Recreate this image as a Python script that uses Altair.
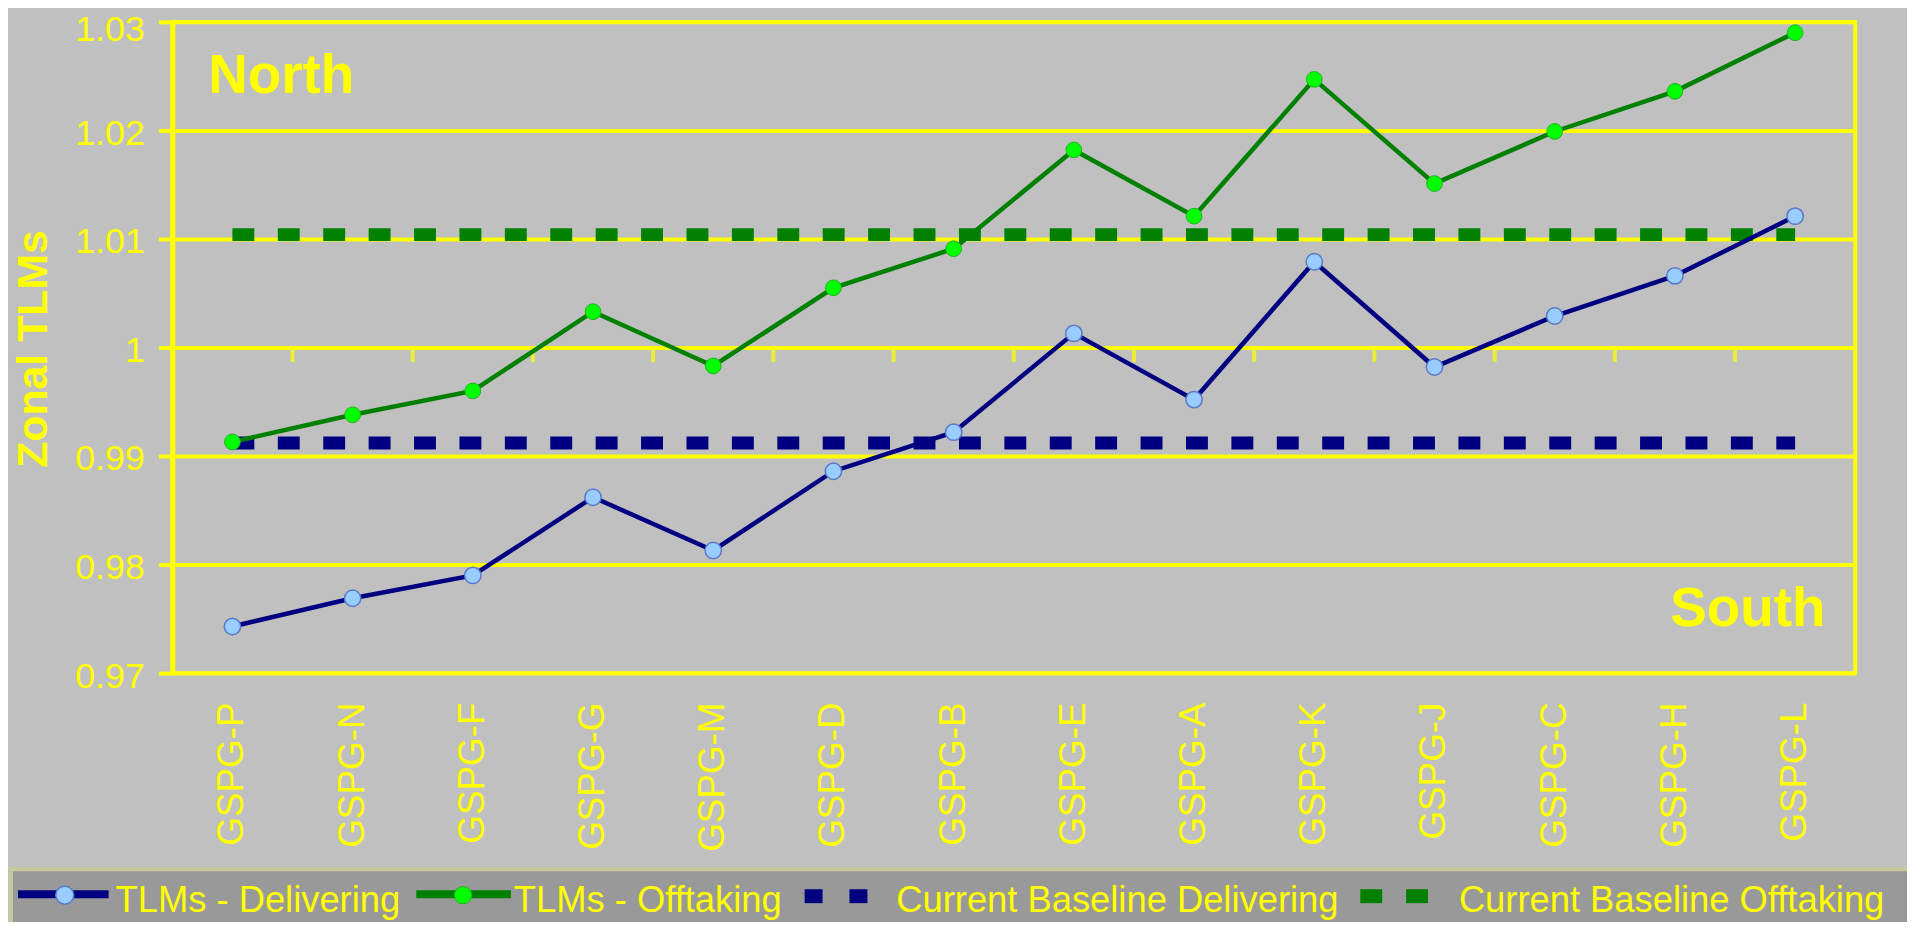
import altair as alt
import pandas as pd

# ---------------- data ----------------
categories = ["GSPG-P", "GSPG-N", "GSPG-F", "GSPG-G", "GSPG-M", "GSPG-D", "GSPG-B",
              "GSPG-E", "GSPG-A", "GSPG-K", "GSPG-J", "GSPG-C", "GSPG-H", "GSPG-L"]
delivering = [0.9743, 0.9769, 0.9790, 0.9862, 0.9813, 0.9886, 0.9922,
              1.0013, 0.9952, 1.0079, 0.9982, 1.0029, 1.0066, 1.0121]
offtaking = [0.9913, 0.9938, 0.9960, 1.0033, 0.9983, 1.0055, 1.0091,
             1.0182, 1.0121, 1.0247, 1.0151, 1.0199, 1.0236, 1.0290]
baseline_delivering = [0.9912, 0.9912, 0.9912, 0.9912, 0.9912, 0.9912, 0.9912,
                       0.9912, 0.9912, 0.9912, 0.9912, 0.9912, 0.9912, 0.9912]
baseline_offtaking = [1.0104, 1.0104, 1.0104, 1.0104, 1.0104, 1.0104, 1.0104,
                      1.0104, 1.0104, 1.0104, 1.0104, 1.0104, 1.0104, 1.0104]
series_names = ["TLMs - Delivering", "TLMs - Offtaking",
                "Current Baseline Delivering", "Current Baseline Offtaking"]
y_ticks = [0.97, 0.98, 0.99, 1.00, 1.01, 1.02, 1.03]
axis_cross = 1.00
zone_labels = ["North", "South"]

# ---------------- style ----------------
YEL = "#FFFF00"
NAVY = "#000080"
GREEN = "#008000"
LIME = "#00FF00"
LBLUE = "#99CCFF"
FONT = "Liberation Sans"
W, H = 1690, 654

cat_scale = alt.Scale(type="band", domain=categories, paddingInner=0, paddingOuter=0)
y_scale = alt.Scale(domain=[0.97, 1.03], nice=False, zero=False)

x_axis = alt.Axis(title=None, labelAngle=270, labelAlign="right", labelBaseline="middle",
                  labelPadding=29, ticks=False, domain=False, grid=False,
                  labelColor=YEL, labelFont=FONT, labelFontSize=37)
y_axis = alt.Axis(title="Zonal TLMs", values=y_ticks, format=".3~g", grid=True,
                  gridColor=YEL, gridWidth=4, gridOpacity=1,
                  domain=True, domainColor=YEL, domainWidth=5,
                  ticks=True, tickColor=YEL, tickWidth=4, tickSize=14,
                  labelPadding=14,
                  labelOffset=alt.ExprRef("datum.value >= 1.025 ? 8 : 3"),
                  labelColor=YEL, labelFont=FONT, labelFontSize=36,
                  titleColor=YEL, titleFont=FONT, titleFontSize=43, titleFontWeight="bold",
                  titleAngle=270, titleX=-139, titleY=328, titleAlign="center",
                  titleBaseline="middle")

x_enc = alt.X("cat:N", scale=cat_scale, sort=categories, axis=x_axis)
y_enc = alt.Y("v:Q", scale=y_scale, axis=y_axis)


def frame(values):
    return pd.DataFrame({"cat": categories, "v": values})


one = pd.DataFrame({"a": [0]})

base_del = alt.Chart(frame(baseline_delivering)).mark_line(
    color=NAVY, strokeWidth=13, strokeDash=[22, 23.6], strokeCap="butt"
).encode(x=x_enc, y=y_enc)
base_off = alt.Chart(frame(baseline_offtaking)).mark_line(
    color=GREEN, strokeWidth=13, strokeDash=[22, 23.6], strokeCap="butt"
).encode(x=x_enc, y=y_enc)

ticks_df = pd.DataFrame({"cat": categories[1:], "v": [axis_cross] * (len(categories) - 1)})
cat_ticks = alt.Chart(ticks_df).mark_tick(
    color=YEL, orient="vertical", size=13, thickness=4, yOffset=8
).encode(x=alt.X("cat:N", scale=cat_scale, sort=categories, axis=x_axis, bandPosition=0),
         y=y_enc)

del_line = alt.Chart(frame(delivering)).mark_line(color=NAVY, strokeWidth=4.5).encode(x=x_enc, y=y_enc)
off_line = alt.Chart(frame(offtaking)).mark_line(color=GREEN, strokeWidth=4.5).encode(x=x_enc, y=y_enc)
del_pts = alt.Chart(frame(delivering)).mark_point(
    shape="circle", filled=True, size=270, fill=LBLUE, stroke="#5A78C8", strokeWidth=1.5, opacity=1
).encode(x=x_enc, y=y_enc)
off_pts = alt.Chart(frame(offtaking)).mark_point(
    shape="circle", filled=True, size=250, fill=LIME, stroke="#22B022", strokeWidth=1, opacity=1
).encode(x=x_enc, y=y_enc)

north = alt.Chart(pd.DataFrame({"t": [zone_labels[0]]})).mark_text(
    color=YEL, font=FONT, fontSize=55, fontWeight="bold", align="left", baseline="alphabetic"
).encode(text="t:N", x=alt.value(36), y=alt.value(71))
south = alt.Chart(pd.DataFrame({"t": [zone_labels[1]]})).mark_text(
    color=YEL, font=FONT, fontSize=55, fontWeight="bold", align="right", baseline="alphabetic"
).encode(text="t:N", x=alt.value(1660), y=alt.value(607))

# ---------------- legend (drawn) ----------------
LY = -8  # lift so the labels' descenders stay inside the canvas
leg_box = alt.Chart(one).mark_rect(fill="#999999", stroke="#C8C89C", strokeWidth=4).encode(
    x=alt.value(-162), x2=alt.value(1770), y=alt.value(859 + LY), y2=alt.value(930))

leg_layers = [leg_box]
# series 1: navy line with light-blue marker
leg_layers.append(alt.Chart(one).mark_rule(color=NAVY, strokeWidth=8).encode(
    x=alt.value(-155), x2=alt.value(-64), y=alt.value(884 + LY)))
leg_layers.append(alt.Chart(one).mark_point(shape="circle", filled=True, size=330, fill=LBLUE,
                                            stroke="#5A78C8", strokeWidth=1.5, opacity=1).encode(
    x=alt.value(-108), y=alt.value(885 + LY)))
# series 2: green line with lime marker
leg_layers.append(alt.Chart(one).mark_rule(color=GREEN, strokeWidth=8).encode(
    x=alt.value(245), x2=alt.value(340), y=alt.value(884 + LY)))
leg_layers.append(alt.Chart(one).mark_point(shape="circle", filled=True, size=300, fill=LIME,
                                            stroke="#22B022", strokeWidth=1, opacity=1).encode(
    x=alt.value(292), y=alt.value(885 + LY)))
# series 3/4: dashes
for (a, b), col in [((635, 653), NAVY), ((680, 698), NAVY),
                    ((1193, 1215), GREEN), ((1239, 1261), GREEN)]:
    leg_layers.append(alt.Chart(one).mark_rect(color=col).encode(
        x=alt.value(a), x2=alt.value(b), y=alt.value(879 + LY), y2=alt.value(893 + LY)))
# labels
for name, xpos in zip(series_names, [-57, 343, 727, 1292]):
    leg_layers.append(alt.Chart(pd.DataFrame({"t": [name]})).mark_text(
        color=YEL, font=FONT, fontSize=36.5, align="left", baseline="alphabetic"
    ).encode(text="t:N", x=alt.value(xpos), y=alt.value(902 + LY)))

chart = alt.layer(
    base_del, base_off, cat_ticks, del_line, off_line, del_pts, off_pts, north, south,
    *leg_layers
).properties(
    width=W, height=H,
    padding={"left": 165, "top": 12, "right": 52, "bottom": 248},
    autosize=alt.AutoSizeParams(type="none"),
    background="#C0C0C0",
).configure_view(stroke=YEL, strokeWidth=4)

chart.save("out.html", embed_options={"renderer": "svg", "actions": False})
